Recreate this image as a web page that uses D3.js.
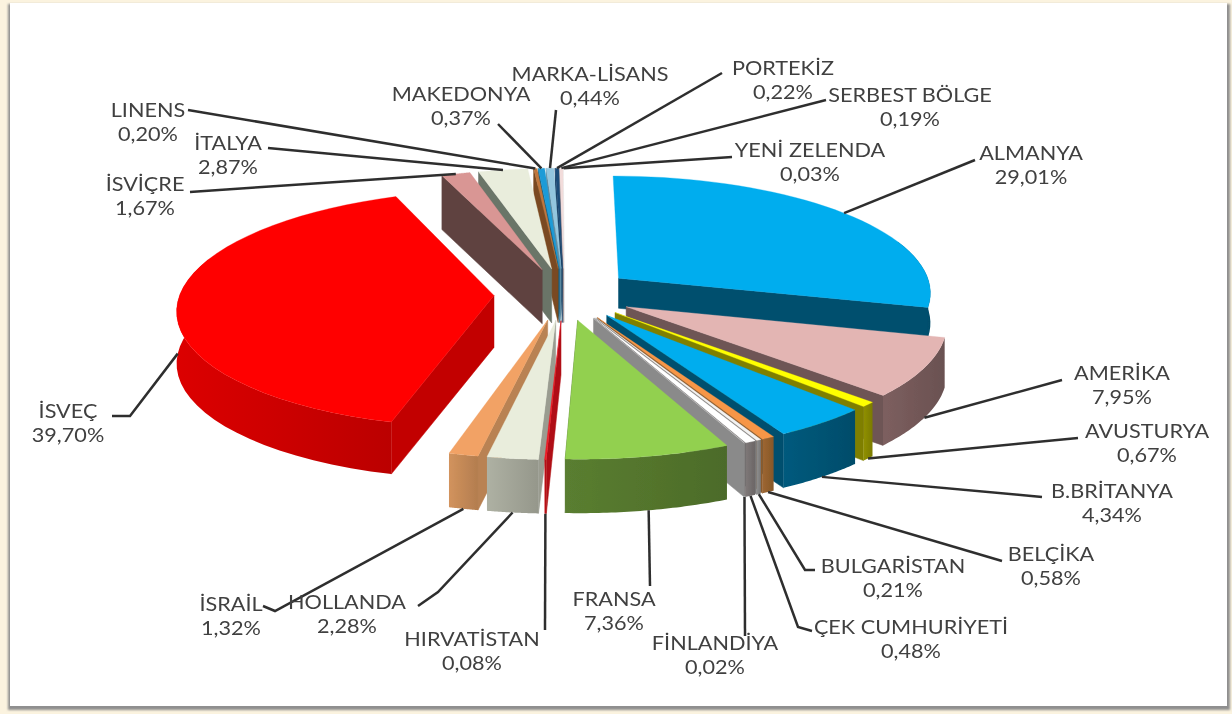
<!DOCTYPE html>
<html>
<head>
<meta charset="utf-8">
<title>Ülkelere göre dağılım</title>
<script src="https://cdnjs.cloudflare.com/ajax/libs/d3/7.8.5/d3.min.js"></script>
<style>
  html, body { margin: 0; padding: 0; background: #fbf3df; }
  svg { display: block; }
  text { font-family: Lato, "Open Sans", sans-serif; fill: #404040; }
</style>
</head>
<body>
<svg id="chart" width="1232" height="714"></svg>
<script>
// Data, clockwise from twelve o'clock
const countries = ['ALMANYA', 'AMERİKA', 'AVUSTURYA', 'B.BRİTANYA', 'BELÇİKA', 'BULGARİSTAN',
  'ÇEK CUMHURİYETİ', 'FİNLANDİYA', 'FRANSA', 'HIRVATİSTAN', 'HOLLANDA', 'İSRAİL', 'İSVEÇ',
  'İSVİÇRE', 'İTALYA', 'LINENS', 'MAKEDONYA', 'MARKA-LİSANS', 'PORTEKİZ', 'SERBEST BÖLGE', 'YENİ ZELENDA'];
const shares = [29.01, 7.95, 0.67, 4.34, 0.58, 0.21, 0.48, 0.02, 7.36, 0.08, 2.28, 1.32, 39.70,
  1.67, 2.87, 0.20, 0.37, 0.44, 0.22, 0.19, 0.03];

// Colours: top face, wall
const topColors = ['#03adee', '#e3b5b3', '#ffff00', '#03adee', '#f79646', '#f2f2f2', '#ffffff', '#dddddd',
  '#92d050', '#ee1c25', '#e9eddc', '#f2a265', '#ff0000', '#d99694', '#e9eddc', '#c0763c', '#1e9bd7',
  '#93c6de', '#1f4e79', '#f2dcdb', '#ffffff'];
const wallColors = ['#004f6e', '#6e5454', '#7f7f00', '#004f6e', '#8b5a2b', '#7d7d7d', '#6f6a6a', '#8a8a8a',
  '#4f6f2a', '#b00d14', '#9a9c90', '#b98252', '#c20000', '#5f4340', '#6b7468', '#7a4a20', '#0f5f86',
  '#5d8aa0', '#123a5e', '#a08a8a', '#bbbbbb'];

// Projection of the tilted pie
const cx = 564, cy = 294, radiusX = 314, radiusY = 117, perspective = 0.112, explode = 0.223;
const wallHeight = 54;
const wallOverride = { ALMANYA: 30, 'AMERİKA': 50, 'İSVEÇ': 52 };

const project = (u, v) => {
  const s = 1 / (1 - perspective * v);
  return [cx + u * radiusX * s, cy + v * radiusY * s];
};

// Label layout: text centre, leader end, optional elbow
const labelLayout = {
  'ALMANYA': { x: 1031, y: 154, end: [975, 160] },
  'AMERİKA': { x: 1122, y: 374, end: [1062, 380] },
  'AVUSTURYA': { x: 1147, y: 432, end: [1078, 438] },
  'B.BRİTANYA': { x: 1112, y: 492, end: [1042, 497] },
  'BELÇİKA': { x: 1051, y: 555, end: [1002, 561] },
  'BULGARİSTAN': { x: 893, y: 567, end: [815, 570], elbow: [805, 570] },
  'ÇEK CUMHURİYETİ': { x: 911, y: 628, end: [812, 631], elbow: [798, 627] },
  'FİNLANDİYA': { x: 715, y: 644, end: [745, 636] },
  'FRANSA': { x: 614, y: 600, end: [650, 586] },
  'HIRVATİSTAN': { x: 472, y: 640, end: [545, 630] },
  'HOLLANDA': { x: 347, y: 603, end: [418, 606], elbow: [438, 592] },
  'İSRAİL': { x: 231, y: 605, end: [263, 606], elbow: [275, 611] },
  'İSVEÇ': { x: 68, y: 412, end: [112, 416], elbow: [130, 416] },
  'İSVİÇRE': { x: 145, y: 185, end: [190, 192] },
  'İTALYA': { x: 228, y: 144, end: [268, 148] },
  'LINENS': { x: 148, y: 111, end: [188, 110] },
  'MAKEDONYA': { x: 461, y: 95, end: [498, 124] },
  'MARKA-LİSANS': { x: 590, y: 75, end: [556, 110] },
  'PORTEKİZ': { x: 783, y: 69, end: [722, 73] },
  'SERBEST BÖLGE': { x: 910, y: 96, end: [826, 100] },
  'YENİ ZELENDA': { x: 810, y: 151, end: [732, 157] }
};

const svg = d3.select('#chart');
const defs = svg.append('defs');

const soft = defs.append('filter').attr('id', 'soft');
soft.append('feGaussianBlur').attr('stdDeviation', 0.7);

const textSoft = defs.append('filter').attr('id', 'textSoft').attr('x', '-5%').attr('y', '-5%').attr('width', '110%').attr('height', '110%');
textSoft.append('feGaussianBlur').attr('stdDeviation', 0.45);

const edge = defs.append('filter').attr('id', 'edge').attr('x', '-5%').attr('y', '-5%').attr('width', '110%').attr('height', '110%');
edge.append('feGaussianBlur').attr('stdDeviation', 1.2);

// Paper and frame
svg.append('rect').attr('width', 1232).attr('height', 714).attr('fill', '#fbf3df');
svg.append('rect').attr('x', 8).attr('y', 4).attr('width', 1222).attr('height', 706)
  .attr('fill', '#8f8f8f').attr('filter', 'url(#edge)');
svg.append('rect').attr('x', 10).attr('y', 3).attr('width', 1217).attr('height', 703).attr('fill', '#ffffff');

const pieLayout = d3.pie().value(d => d.share).sort(null);
const rows = countries.map((name, i) => ({ name, share: shares[i], top: topColors[i], wall: wallColors[i] }));
const slices = pieLayout(rows);

// Back to front painting order
const ordered = slices.slice().sort((a, b) =>
  -Math.cos((a.startAngle + a.endAngle) / 2) - -Math.cos((b.startAngle + b.endAngle) / 2));

const offsetOf = d => {
  const mid = (d.startAngle + d.endAngle) / 2;
  return [Math.sin(mid) * explode, -Math.cos(mid) * explode];
};
const rimPoint = (d, angle) => {
  const [ou, ov] = offsetOf(d);
  return project(ou + Math.sin(angle), ov - Math.cos(angle));
};
const depthOf = d => wallOverride[d.data.name] || wallHeight;

const pie = svg.append('g').attr('filter', 'url(#soft)');
const line = d3.line();

ordered.forEach((d, index) => {
  const [ou, ov] = offsetOf(d);
  const apex = project(ou, ov);
  const h = depthOf(d);
  const down = p => [p[0], p[1] + h];
  const steps = d3.range(0, 41).map(i => d.startAngle + (d.endAngle - d.startAngle) * i / 40);
  const mid = (d.startAngle + d.endAngle) / 2;

  // Radial wall that faces the viewer
  const wallAngle = mid < Math.PI ? d.endAngle : d.startAngle;
  const rp = rimPoint(d, wallAngle);
  pie.append('path')
    .attr('d', line([apex, rp, down(rp), down(apex)]) + 'Z')
    .attr('fill', d.data.wall).attr('stroke', d.data.wall).attr('stroke-width', 0.5);

  // Outer wall, lit from the left
  const visible = steps.filter(a => a > Math.PI / 2 - 0.35 && a < 3 * Math.PI / 2 + 0.35);
  if (visible.length > 1) {
    const outer = visible.map(a => rimPoint(d, a));
    const xs = outer.map(p => p[0]);
    const gradientId = 'wall' + index;
    const gradient = defs.append('linearGradient').attr('id', gradientId)
      .attr('gradientUnits', 'userSpaceOnUse')
      .attr('x1', d3.min(xs)).attr('x2', d3.max(xs) + 0.01).attr('y1', 0).attr('y2', 0);
    gradient.append('stop').attr('offset', 0).attr('stop-color', d3.color(d.data.wall).brighter(0.35));
    gradient.append('stop').attr('offset', 1).attr('stop-color', d3.color(d.data.wall).darker(0.1));
    pie.append('path')
      .attr('d', line(outer.concat(outer.map(down).reverse())) + 'Z')
      .attr('fill', 'url(#' + gradientId + ')');
  }

  // Top face
  const rim = steps.map(a => rimPoint(d, a));
  pie.append('path')
    .attr('d', line([apex].concat(rim)) + 'Z')
    .attr('fill', d.data.top).attr('stroke', d.data.top).attr('stroke-width', 0.3);
});

// Leader lines, from the rim of each slice
const leaders = svg.append('g').attr('filter', 'url(#soft)');
slices.forEach(d => {
  const mid = (d.startAngle + d.endAngle) / 2;
  const layout = labelLayout[d.data.name];
  const start = rimPoint(d, mid);
  if (Math.cos(mid) < 0) start[1] += depthOf(d);
  const points = [start];
  if (layout.elbow) points.push(layout.elbow);
  points.push(layout.end);
  leaders.append('path')
    .attr('d', line(points))
    .attr('fill', 'none').attr('stroke', '#2f2f2f').attr('stroke-width', 2.5);
});

// Labels, stretched sideways like the scanned original
const labels = svg.append('g').attr('font-size', 19).attr('text-anchor', 'middle').attr('filter', 'url(#textSoft)');
slices.forEach(d => {
  const layout = labelLayout[d.data.name];
  const value = d3.format('.2f')(d.data.share).replace('.', ',') + '%';
  labels.append('text').attr('transform', `translate(${layout.x},${layout.y + 6}) scale(1.14,1)`).text(d.data.name);
  labels.append('text').attr('transform', `translate(${layout.x},${layout.y + 30}) scale(1.14,1)`).text(value);
});
</script>
</body>
</html>
